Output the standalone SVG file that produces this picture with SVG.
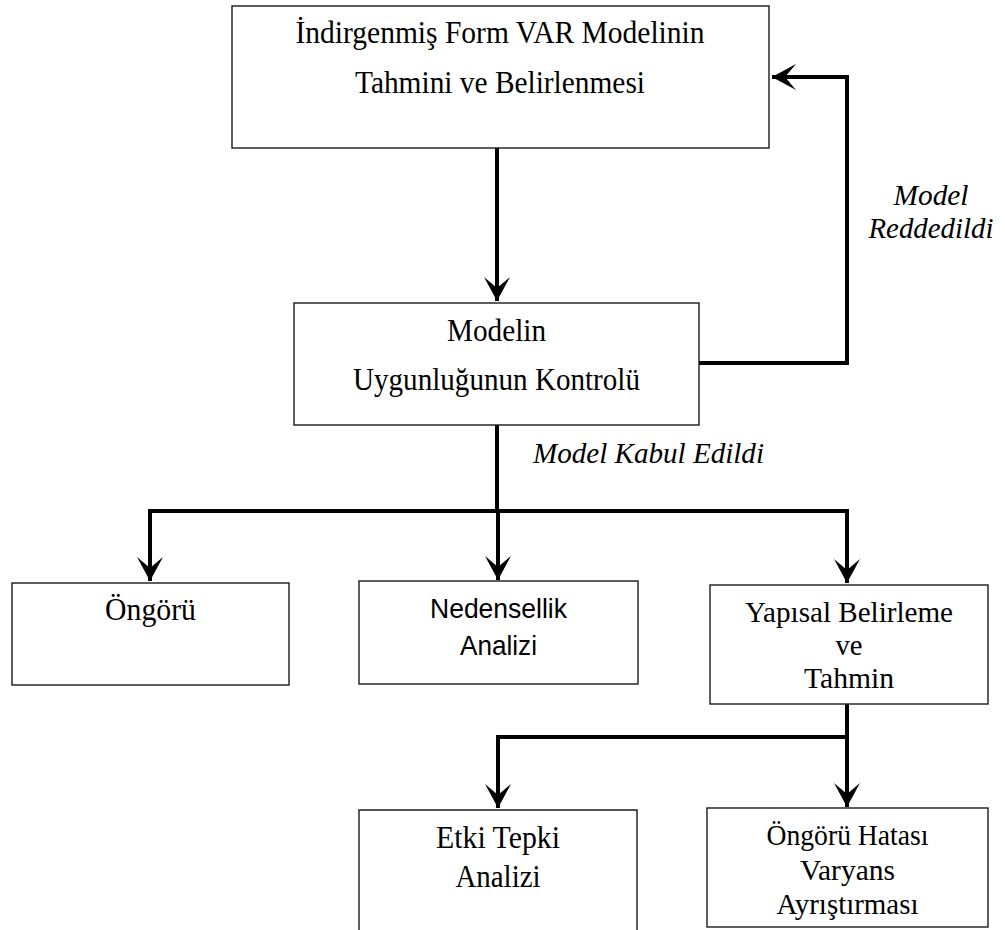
<svg xmlns="http://www.w3.org/2000/svg" width="1005" height="930" viewBox="0 0 1005 930">
<defs>
<style>
.box{fill:#fff;stroke:#1a1a1a;stroke-width:1.4}
.t{font-family:"Liberation Serif","Times New Roman",serif;font-size:31px;fill:#000;text-anchor:middle}
.t2{font-family:"Liberation Serif","Times New Roman",serif;font-size:29px;fill:#000;text-anchor:middle}
.it{font-family:"Liberation Serif","Times New Roman",serif;font-size:30px;font-style:italic;fill:#000}
.s{font-family:"Liberation Sans",Arial,sans-serif;font-size:28px;fill:#000;text-anchor:middle}
.c{fill:none;stroke:#000;stroke-width:4}
</style>
<marker id="ah" viewBox="0 0 24 26" refX="24" refY="13" markerWidth="24" markerHeight="26" markerUnits="userSpaceOnUse" orient="auto">
<path d="M24,13 L0,0 L11,13 L0,26 Z" fill="#000"/>
</marker>
</defs>
<rect width="1005" height="930" fill="#fff"/>
<g id="connectors">
<path class="c" d="M497,148 V301" marker-end="url(#ah)"/>
<path class="c" d="M699,363 H847 V77 H772" marker-end="url(#ah)"/>
<path class="c" d="M497,425 V511"/>
<path class="c" d="M150,511 H847"/>
<path class="c" d="M150,509 V581" marker-end="url(#ah)"/>
<path class="c" d="M498,511 V580" marker-end="url(#ah)"/>
<path class="c" d="M847,509 V583" marker-end="url(#ah)"/>
<path class="c" d="M847,704 V737"/>
<path class="c" d="M496,737 H849"/>
<path class="c" d="M498,735 V808" marker-end="url(#ah)"/>
<path class="c" d="M847,735 V807" marker-end="url(#ah)"/>
</g>
<g id="lbl-rejected">
<text class="it" x="931" y="205" text-anchor="middle" textLength="75" lengthAdjust="spacingAndGlyphs">Model</text>
<text class="it" x="931" y="238" text-anchor="middle" textLength="125" lengthAdjust="spacingAndGlyphs">Reddedildi</text>
</g>
<g id="lbl-accepted">
<text class="it" x="533" y="463" textLength="231" lengthAdjust="spacingAndGlyphs">Model Kabul Edildi</text>
</g>
<g id="n-var">
<rect class="box" x="232" y="6" width="537" height="142"/>
<text class="t" x="500" y="43" textLength="409" lengthAdjust="spacingAndGlyphs">İndirgenmiş Form VAR Modelinin</text>
<text class="t" x="500" y="93" textLength="290" lengthAdjust="spacingAndGlyphs">Tahmini ve Belirlenmesi</text>
</g>
<g id="n-kontrol">
<rect class="box" x="294" y="303" width="405" height="122"/>
<text class="t" x="496.5" y="341" textLength="99" lengthAdjust="spacingAndGlyphs">Modelin</text>
<text class="t" x="496.5" y="390" textLength="287" lengthAdjust="spacingAndGlyphs">Uygunluğunun Kontrolü</text>
</g>
<g id="n-ongoru">
<rect class="box" x="12" y="583" width="277" height="102"/>
<text class="t" x="150.5" y="620" textLength="91" lengthAdjust="spacingAndGlyphs">Öngörü</text>
</g>
<g id="n-nedensellik">
<rect class="box" x="359" y="581" width="279" height="103"/>
<text class="s" x="498.5" y="618" textLength="137" lengthAdjust="spacingAndGlyphs">Nedensellik</text>
<text class="s" x="498.5" y="655" textLength="77" lengthAdjust="spacingAndGlyphs">Analizi</text>
</g>
<g id="n-yapisal">
<rect class="box" x="710" y="585" width="278" height="119"/>
<text class="t2" x="849" y="622" textLength="208" lengthAdjust="spacingAndGlyphs">Yapısal Belirleme</text>
<text class="t2" x="849" y="655" textLength="27" lengthAdjust="spacingAndGlyphs">ve</text>
<text class="t2" x="849" y="688" textLength="90" lengthAdjust="spacingAndGlyphs">Tahmin</text>
</g>
<g id="n-etki">
<path class="box" d="M359,940 V810 H637 V940"/>
<text class="t" x="498" y="848" textLength="124" lengthAdjust="spacingAndGlyphs">Etki Tepki</text>
<text class="t" x="498" y="887" textLength="85" lengthAdjust="spacingAndGlyphs">Analizi</text>
</g>
<g id="n-varyans">
<rect class="box" x="707" y="808" width="281" height="119"/>
<text class="t2" x="847.5" y="845" textLength="162" lengthAdjust="spacingAndGlyphs">Öngörü Hatası</text>
<text class="t2" x="847.5" y="880" textLength="95" lengthAdjust="spacingAndGlyphs">Varyans</text>
<text class="t2" x="847.5" y="914" textLength="142" lengthAdjust="spacingAndGlyphs">Ayrıştırması</text>
</g>
</svg>
